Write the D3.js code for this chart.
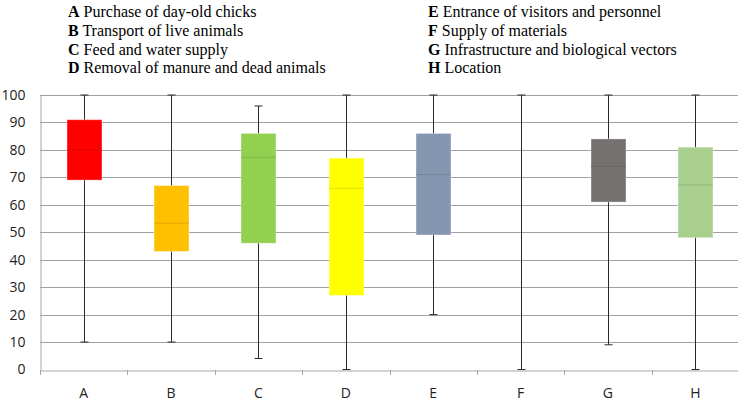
<!DOCTYPE html>
<html><head><meta charset="utf-8">
<script src="https://cdn.jsdelivr.net/npm/d3@7"></script>
<style>body{margin:0;background:#fff}svg{display:block}
.lg{font-family:"Liberation Serif","Times New Roman",Times,"DejaVu Serif",serif;font-size:16px;fill:#000}
.ax text{font-family:"Open Sans","Liberation Sans",sans-serif;font-size:14px;fill:#222}
</style>
</head><body>
<script>
const categories = ["A","B","C","D","E","F","G","H"];
const whiskerLow  = [10, 10, 4, 0, 20, 0, 9, 0];
const q1          = [69, 43, 46, 27, 49, null, 61, 48];
const median      = [80, 53.3, 77.3, 66, 71, null, 74, 67.2];
const q3          = [91, 67, 86, 77, 86, null, 84, 81];
const whiskerHigh = [100, 100, 96, 100, 100, 100, 100, 100];
const boxColors   = ["#ff0000","#ffc000","#92d050","#ffff00","#8497b0",null,"#767171","#a9d08e"];
const yTicks = [0,10,20,30,40,50,60,70,80,90,100];
const legendLeft = [["A","Purchase of day-old chicks"],["B","Transport of live animals"],["C","Feed and water supply"],["D","Removal of manure and dead animals"]];
const legendRight = [["E","Entrance of visitors and personnel"],["F","Supply of materials"],["G","Infrastructure and biological vectors"],["H","Location"]];

const W=738,H=405;
const svg=d3.select("body").append("svg").attr("width",W).attr("height",H);
const x=d3.scaleBand().domain(categories).range([40,739]).paddingInner(0).paddingOuter(0);
const y=d3.scaleLinear().domain([0,100]).range([369.5,95]);

// gridlines
svg.append("g").selectAll("line").data(yTicks.filter(d=>d>0)).join("line")
 .attr("x1",40).attr("x2",W).attr("y1",d=>Math.round(y(d))+0.5).attr("y2",d=>Math.round(y(d))+0.5)
 .attr("stroke","#a0a0a0").attr("stroke-width",1);

// y axis
const ya=svg.append("g").attr("class","ax").attr("transform","translate(40.5,0)")
 .call(d3.axisLeft(y).tickValues(yTicks).tickSize(0).tickPadding(15));
ya.select(".domain").attr("stroke","#a6a6a6");

// x axis
const xa=svg.append("g").attr("class","ax").attr("transform",`translate(0,${Math.round(y(0))+0.5})`)
 .call(d3.axisBottom(x).tickSize(0).tickPadding(18));
xa.select(".domain").attr("stroke","#a6a6a6");
// tick marks at band boundaries
svg.append("g").selectAll("line").data(categories).join("line")
 .attr("x1",d=>Math.round(x(d))+0.5).attr("x2",d=>Math.round(x(d))+0.5)
 .attr("y1",Math.round(y(0))).attr("y2",Math.round(y(0))+5).attr("stroke","#a6a6a6");

const bw=x.bandwidth()*0.4;
const g=svg.append("g").selectAll("g").data(categories).join("g");
g.each(function(c,i){
  const s=d3.select(this);
  const cx=Math.round(x(c)+x.bandwidth()/2)+0.5;
  s.append("line").attr("x1",cx).attr("x2",cx).attr("y1",y(whiskerLow[i])).attr("y2",y(whiskerHigh[i]))
   .attr("stroke","#2a2a2a").attr("stroke-width",1);
  [whiskerLow[i],whiskerHigh[i]].forEach(v=>{
    s.append("line").attr("x1",cx-4).attr("x2",cx+4).attr("y1",y(v)).attr("y2",y(v)).attr("stroke","#2a2a2a");
  });
  if(q1[i]!==null){
    s.append("rect").attr("x",cx-bw/2).attr("width",bw).attr("y",y(q3[i])).attr("height",y(q1[i])-y(q3[i]))
     .attr("fill",boxColors[i]).attr("stroke","#ffffff").attr("stroke-opacity",0.35).attr("stroke-width",1);
    s.append("line").attr("x1",cx-bw/2).attr("x2",cx+bw/2).attr("y1",y(median[i])).attr("y2",y(median[i]))
     .attr("stroke",d3.color(boxColors[i]).darker(0.35)).attr("stroke-width",1);
  }
});

// legend
function legend(items,x0){
  const t=svg.append("g").selectAll("text").data(items).join("text").attr("class","lg")
   .attr("x",x0).attr("y",(d,i)=>17+i*18.8);
  t.append("tspan").attr("font-weight","bold").text(d=>d[0]);
  t.append("tspan").text(d=>" "+d[1]);
}
legend(legendLeft,68);
legend(legendRight,428);
</script>
</body></html>
